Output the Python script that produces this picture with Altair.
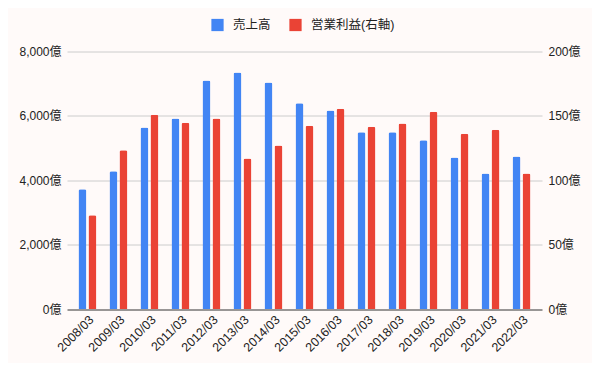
import altair as alt
import pandas as pd

years = ["2008/03", "2009/03", "2010/03", "2011/03", "2012/03", "2013/03", "2014/03", "2015/03",
         "2016/03", "2017/03", "2018/03", "2019/03", "2020/03", "2021/03", "2022/03"]
sales = [3720, 4280, 5640, 5920, 7100, 7350, 7040, 6390, 6170, 5490, 5490, 5240, 4710, 4210, 4740]
profit = [72.9, 123.3, 150.9, 144.7, 148.0, 116.8, 126.9, 142.4, 155.6, 141.6, 144.0, 153.2, 136.2, 139.3, 105.2]
series = ["売上高", "営業利益(右軸)"]
colors = ["#4285F4", "#EA4335"]

df_sales = pd.DataFrame({"year": years, "value": sales, "series": series[0]})
df_profit = pd.DataFrame({"year": years, "value": profit, "series": series[1]})

FONT = "Liberation Sans, Arial, Noto Sans CJK JP"
BG = "#FFFAF9"

x_enc = alt.X("year:N", sort=years, title=None,
              scale=alt.Scale(paddingInner=0.42, paddingOuter=0.37),
              axis=alt.Axis(labelAngle=-45, labelAlign="right", labelBaseline="top",
                            labelFontSize=12.5, labelColor="#222", ticks=False, domain=False,
                            labelPadding=4, labelFont=FONT))
xo_enc = alt.XOffset("series:N", sort=series,
                     scale=alt.Scale(domain=series, paddingInner=0.2, paddingOuter=0))
color_enc = alt.Color("series:N", sort=series,
                      scale=alt.Scale(domain=series, range=colors),
                      legend=alt.Legend(title=None, orient="none", direction="horizontal",
                                        legendX=144, legendY=-33, symbolType="square",
                                        symbolSize=150, symbolStrokeWidth=0, labelFontSize=12.5,
                                        labelColor="#222", labelFont=FONT, columnPadding=18,
                                        padding=0, labelOffset=9))

left = alt.Chart(df_sales).mark_bar(cornerRadiusTopLeft=2, cornerRadiusTopRight=2).encode(
    x=x_enc, xOffset=xo_enc, color=color_enc,
    y=alt.Y("value:Q", title=None, scale=alt.Scale(domain=[0, 8000], nice=False),
            axis=alt.Axis(values=[0, 2000, 4000, 6000, 8000], orient="left",
                          labelExpr="format(datum.value, ',') + '億'",
                          grid=True, gridColor=alt.expr("datum.value == 0 ? '#333333' : '#cccccc'"),
                          gridWidth=1, ticks=False, domain=False, labelPadding=6,
                          labelFontSize=12, labelColor="#222", labelFont=FONT))
)

right = alt.Chart(df_profit).mark_bar(cornerRadiusTopLeft=2, cornerRadiusTopRight=2).encode(
    x=x_enc, xOffset=xo_enc, color=color_enc,
    y=alt.Y("value:Q", title=None, scale=alt.Scale(domain=[0, 200], nice=False),
            axis=alt.Axis(values=[0, 50, 100, 150, 200], orient="right",
                          labelExpr="format(datum.value, ',') + '億'",
                          grid=False, ticks=False, domain=False, labelPadding=6,
                          labelFontSize=12, labelColor="#222", labelFont=FONT))
)

chart = alt.layer(left, right).resolve_scale(y="independent").properties(
    width=475, height=257.5,
    autosize=alt.AutoSizeParams(type="none"),
    padding={"left": 59, "top": 43.5, "right": 50, "bottom": 54},
    background=BG,
).configure_view(stroke=None).configure_axis(labelFont=FONT)

chart.save("out.html", embed_options={"renderer": "svg", "actions": False})
